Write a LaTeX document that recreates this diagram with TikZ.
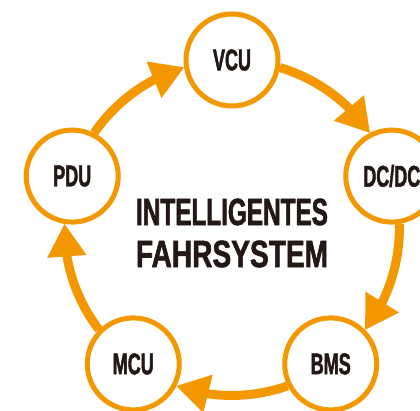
\documentclass[tikz,border=0pt]{standalone}
\usepackage{fontspec}
\newfontfamily\nhanfont[FakeStretch=0.6,BoldFeatures={FakeBold=1.5}]{Liberation Sans}
\newfontfamily\hepfont[FakeStretch=0.64,BoldFeatures={FakeBold=1.5}]{Liberation Sans}
\newfontfamily\rongfont[FakeStretch=0.74,BoldFeatures={FakeBold=1.5}]{Liberation Sans}
\usetikzlibrary{arrows.meta,bending}
\definecolor{cam}{RGB}{243,152,0}
\definecolor{chu}{RGB}{35,24,21}
\begin{document}
\begin{tikzpicture}[x=1pt,y=1pt,
	khoi/.style={circle,draw=cam,line width=5pt,minimum size=92pt,inner sep=0pt,fill=white,text=chu,font=\nhanfont\bfseries\fontsize{30}{32}\selectfont},
	luong/.style={draw=cam,line width=9pt,-{Triangle[length=33pt,width=37pt,flex]}}]
	\def\R{168}%Bán kính vòng lớn
	\def\r{48.5}%Bán kính ngoài hình tròn
	\pgfmathsetmacro{\t}{2*asin(\r/(2*\R))}
	\pgfmathsetmacro{\u}{90-\t/2}
	\useasboundingbox (-232,-183) rectangle (188,228);
	\node[khoi] (vcu) at (90:\R) {VCU};
	\node[khoi] (dcdc) at (18:\R) {DC/DC};
	\node[khoi] (bms) at (-54:\R) {BMS};
	\node[khoi] (mcu) at (-126:\R) {MCU};
	\node[khoi] (pdu) at (162:\R) {PDU};
	\node[text=chu,align=center,font=\hepfont\bfseries\fontsize{38}{42}\selectfont] (tam) at (0,-5) {INTELLIGENTES\\{\rongfont\bfseries FAHRSYSTEM}};
	\foreach \a/\s in {90/vcu,18/dcdc,-54/bms,-126/mcu,162/pdu}{
		\pgfmathsetmacro{\o}{\a+180+\u}
		\draw[luong] (\s.\o) arc[start angle=\a-\t, delta angle=-72+2*\t, radius=\R];
	}
\end{tikzpicture}
\end{document}
